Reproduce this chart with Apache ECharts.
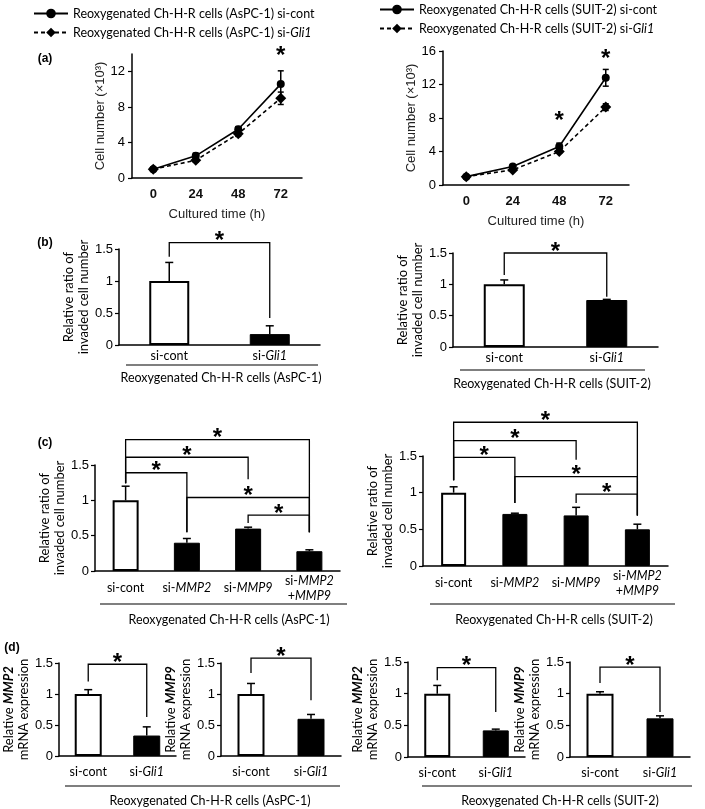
<!DOCTYPE html>
<html>
<head>
<meta charset="utf-8">
<script src="https://cdn.jsdelivr.net/npm/echarts@6/dist/echarts.min.js"></script>
<style>
html, body { margin: 0; padding: 0; background: #fff; }
#main { width: 705px; height: 809px; }
</style>
</head>
<body>
<div id="main"></div>
<script>
// (a) cell growth, x10^3 cells
var timeLabels = ['0', '24', '48', '72'];
var aspcCont = [1.0, 2.5, 5.5, 10.6];
var aspcContErr = [0.05, 0.3, 0.3, 1.5];
var aspcGli = [1.0, 2.0, 5.0, 9.0];
var aspcGliErr = [0.05, 0.2, 0.3, 0.7];
var suitCont = [1.0, 2.2, 4.6, 12.8];
var suitContErr = [0.05, 0.2, 0.4, 1.0];
var suitGli = [1.0, 1.8, 4.0, 9.3];
var suitGliErr = [0.05, 0.15, 0.2, 0.4];
var aspcStars = [[3, 13.7]];
var suitStars = [[2, 7.6], [3, 15.0]];

// (b) invasion, si-Gli1
var gliGroups = ['si-cont', 'si-Gli1'];
var invAspc = [1.0, 0.17];
var invAspcErr = [0.29, 0.13];
var invSuit = [1.0, 0.75];
var invSuitErr = [0.07, 0.01];

// (c) invasion, si-MMP
var mmpGroups = ['si-cont', 'si-MMP2', 'si-MMP9', 'si-MMP2\n+MMP9'];
var mmpAspc = [1.0, 0.4, 0.6, 0.28];
var mmpAspcErr = [0.2, 0.06, 0.02, 0.02];
var mmpSuit = [1.0, 0.71, 0.69, 0.5];
var mmpSuitErr = [0.08, 0.01, 0.11, 0.07];

// (d) mRNA expression
var mmp2Aspc = [1.0, 0.33];
var mmp2AspcErr = [0.07, 0.14];
var mmp9Aspc = [1.0, 0.6];
var mmp9AspcErr = [0.17, 0.07];
var mmp2Suit = [1.0, 0.42];
var mmp2SuitErr = [0.13, 0.02];
var mmp9Suit = [1.0, 0.61];
var mmp9SuitErr = [0.03, 0.04];

// significance brackets: [from, to, top, left foot, right foot]
var bracketsB1 = [[0, 1, 1.6, 1.38, 0.42]];
var bracketsB2 = [[0, 1, 1.5, 1.15, 0.8]];
var bracketsC1 = [[0, 1, 1.39, 1.24, 0.55], [0, 2, 1.61, 1.24, 1.3], [0, 3, 1.86, 1.24, 0.55],
                  [1, 3, 1.04, 0.55, 0.55], [2, 3, 0.79, 0.68, 0.55]];
var bracketsC2 = [[0, 1, 1.48, 1.17, 0.86], [0, 2, 1.71, 1.17, 1.45], [0, 3, 1.96, 1.17, 0.69],
                  [1, 3, 1.22, 0.86, 0.69], [2, 3, 0.98, 0.86, 0.69]];
var bracketsD1 = [[0, 1, 1.48, 1.2, 0.63]];
var bracketsD2 = [[0, 1, 1.58, 1.34, 0.9]];
var bracketsD3 = [[0, 1, 1.41, 1.21, 0.71]];
var bracketsD4 = [[0, 1, 1.42, 1.17, 0.71]];

var legendAspc = ['Reoxygenated Ch-H-R cells (AsPC-1) si-cont', 'Reoxygenated Ch-H-R cells (AsPC-1) si-Gli1'];
var legendSuit = ['Reoxygenated Ch-H-R cells (SUIT-2) si-cont', 'Reoxygenated Ch-H-R cells (SUIT-2) si-Gli1'];

var black = '#000';
var numFont = 'Liberation Sans';
var txtFont = 'Lato';

function italicGenes(v) {
    return v.replace(/(Gli1|MMP2|MMP9)/g, '{i|$1}');
}

function errRender(cap, upOnly) {
    return function (params, api) {
        var x = api.value(0), v = api.value(1), e = api.value(2);
        var top = api.coord([x, v + e]);
        var bot = api.coord([x, upOnly ? v : v - e]);
        var st = { stroke: black, lineWidth: 1.5 };
        var kids = [
            { type: 'line', shape: { x1: top[0], y1: top[1], x2: bot[0], y2: bot[1] }, style: st },
            { type: 'line', shape: { x1: top[0] - cap, y1: top[1], x2: top[0] + cap, y2: top[1] }, style: st }
        ];
        if (!upOnly) {
            kids.push({ type: 'line', shape: { x1: bot[0] - cap, y1: bot[1], x2: bot[0] + cap, y2: bot[1] }, style: st });
        }
        return { type: 'group', children: kids };
    };
}

function starText(x, y) {
    return {
        type: 'text', x: x, y: y,
        style: { text: '*', font: 'bold 24px "Liberation Sans"', fill: black, align: 'center', verticalAlign: 'middle' }
    };
}

function bracketRender(params, api) {
    var i = api.value(0), j = api.value(1), t = api.value(2);
    var p1 = api.coord([i, api.value(3)]);
    var p2 = api.coord([i, t]);
    var p3 = api.coord([j, t]);
    var p4 = api.coord([j, api.value(4)]);
    return {
        type: 'group',
        children: [
            { type: 'polyline', shape: { points: [p1, p2, p3, p4] }, style: { stroke: black, fill: null, lineWidth: 1.3 } },
            starText((p2[0] + p3[0]) / 2, p2[1] - 1)
        ]
    };
}

function starRender(params, api) {
    var p = api.coord([api.value(0), api.value(1)]);
    return starText(p[0], p[1]);
}

var grids = [
    { left: 132, top: 54, width: 170, height: 124 },   // a left
    { left: 443, top: 51, width: 186, height: 134 },   // a right
    { left: 119, top: 249, width: 201, height: 96 },   // b left
    { left: 453, top: 253, width: 205, height: 94 },   // b right
    { left: 95, top: 465, width: 245, height: 106 },   // c left
    { left: 423, top: 456, width: 245, height: 110 },  // c right
    { left: 54, top: 663, width: 122, height: 93 },    // d 1
    { left: 221, top: 663, width: 120, height: 93 },   // d 2
    { left: 408, top: 662, width: 117, height: 95 },   // d 3
    { left: 570, top: 662, width: 120, height: 95 }    // d 4
];

var xAxes = [], yAxes = [], series = [];

function addLinePanel(g, max, cont, contErr, gli, gliErr, stars, names) {
    xAxes.push({
        type: 'category', gridIndex: g, data: timeLabels,
        name: 'Cultured time (h)', nameLocation: 'middle', nameGap: 30,
        nameTextStyle: { fontFamily: numFont, fontSize: 13, color: '#222' },
        axisLine: { lineStyle: { color: black, width: 1.5 } },
        axisTick: { length: 4, lineStyle: { color: black, width: 1.2 } },
        axisLabel: { fontFamily: numFont, fontSize: 13, fontWeight: 'bold', color: '#111', margin: 10, interval: 0 }
    });
    yAxes.push({
        type: 'value', gridIndex: g, min: 0, max: max, interval: 4,
        name: 'Cell number (×10³)', nameLocation: 'middle', nameGap: 22,
        nameTextStyle: { fontFamily: numFont, fontSize: 13, color: '#222' },
        splitLine: { show: false },
        axisLine: { show: true, lineStyle: { color: black, width: 1.5 } },
        axisTick: { show: true, length: 4, lineStyle: { color: black, width: 1.2 } },
        axisLabel: { fontFamily: numFont, fontSize: 13, color: black, margin: 7, showMaxLabel: max % 4 === 0 }
    });
    series.push({
        name: names[0], type: 'line', xAxisIndex: g, yAxisIndex: g, data: cont,
        symbol: 'circle', symbolSize: 8, itemStyle: { color: black },
        lineStyle: { color: black, width: 1.6 }, z: 3
    });
    series.push({
        name: names[1], type: 'line', xAxisIndex: g, yAxisIndex: g, data: gli,
        symbol: 'diamond', symbolSize: 11, itemStyle: { color: black },
        lineStyle: { color: black, width: 1.6, type: [4, 3] }, z: 3
    });
    series.push({
        type: 'custom', xAxisIndex: g, yAxisIndex: g, renderItem: errRender(3, false), z: 4,
        data: cont.map(function (v, i) { return [i, v, contErr[i]]; })
    });
    series.push({
        type: 'custom', xAxisIndex: g, yAxisIndex: g, renderItem: errRender(3, false), z: 4,
        data: gli.map(function (v, i) { return [i, v, gliErr[i]]; })
    });
    series.push({
        type: 'custom', xAxisIndex: g, yAxisIndex: g, renderItem: starRender, z: 4, clip: false, data: stars
    });
}

function addBarPanel(g, groups, vals, errs, brackets, barWidth, yName, nameGap, labelGap) {
    xAxes.push({
        type: 'category', gridIndex: g, data: groups,
        axisLine: { lineStyle: { color: black, width: 1.5 } },
        axisTick: { length: 4, lineStyle: { color: black, width: 1.2 } },
        axisLabel: {
            fontFamily: txtFont, fontSize: 12.5, color: black, margin: labelGap, verticalAlign: 'middle',
            lineHeight: 15, interval: 0, formatter: italicGenes,
            rich: { i: { fontStyle: 'italic', fontFamily: txtFont, fontSize: 12.5, color: black, lineHeight: 15 } }
        }
    });
    yAxes.push({
        type: 'value', gridIndex: g, min: 0, max: 1.5, interval: 0.5,
        name: yName, nameLocation: 'middle', nameGap: nameGap,
        nameTextStyle: {
            fontFamily: txtFont, fontSize: 13, color: black, lineHeight: 15,
            rich: {
                n: { fontFamily: txtFont, fontSize: 13, color: black, lineHeight: 15 },
                b: { fontFamily: txtFont, fontSize: 13, color: black, lineHeight: 15, fontWeight: 'bold', fontStyle: 'italic' }
            }
        },
        splitLine: { show: false },
        axisLine: { show: true, lineStyle: { color: black, width: 1.5 } },
        axisTick: { show: true, length: 4, lineStyle: { color: black, width: 1.2 } },
        axisLabel: { fontFamily: numFont, fontSize: 13, color: black, margin: 6 }
    });
    series.push({
        type: 'bar', xAxisIndex: g, yAxisIndex: g, barWidth: barWidth,
        data: vals.map(function (v, i) {
            return {
                value: v,
                itemStyle: i === 0 ? { color: '#fff', borderColor: black, borderWidth: 2 } : { color: black, borderColor: black, borderWidth: 1 }
            };
        })
    });
    series.push({
        type: 'custom', xAxisIndex: g, yAxisIndex: g, renderItem: errRender(4, true), z: 4,
        data: vals.map(function (v, i) { return [i, v, errs[i]]; })
    });
    series.push({
        type: 'custom', xAxisIndex: g, yAxisIndex: g, renderItem: bracketRender, z: 4, clip: false,
        data: brackets
    });
}

addLinePanel(0, 14, aspcCont, aspcContErr, aspcGli, aspcGliErr, aspcStars, legendAspc);
addLinePanel(1, 16, suitCont, suitContErr, suitGli, suitGliErr, suitStars, legendSuit);
var invName = 'Relative ratio of\ninvaded cell number';
addBarPanel(2, gliGroups, invAspc, invAspcErr, bracketsB1, 40, invName, 26, 11);
addBarPanel(3, gliGroups, invSuit, invSuitErr, bracketsB2, 41, invName, 22, 11);
addBarPanel(4, mmpGroups, mmpAspc, mmpAspcErr, bracketsC1, 26, invName, 25, 17);
addBarPanel(5, mmpGroups, mmpSuit, mmpSuitErr, bracketsC2, 25, invName, 24, 17);
var mmp2Name = '{n|Relative }{b|MMP2}\n{n|mRNA expression}';
var mmp9Name = '{n|Relative }{b|MMP9}\n{n|mRNA expression}';
addBarPanel(6, gliGroups, mmp2Aspc, mmp2AspcErr, bracketsD1, 27, mmp2Name, 23, 16);
addBarPanel(7, gliGroups, mmp9Aspc, mmp9AspcErr, bracketsD2, 27, mmp9Name, 22, 16);
addBarPanel(8, gliGroups, mmp2Suit, mmp2SuitErr, bracketsD3, 26, mmp2Name, 22, 16);
addBarPanel(9, gliGroups, mmp9Suit, mmp9SuitErr, bracketsD4, 27, mmp9Name, 22, 16);

function legendBox(left, top, names) {
    return {
        left: left, top: top, orient: 'vertical', itemGap: 6, itemWidth: 34, itemHeight: 12,
        data: names,
        textStyle: {
            fontFamily: txtFont, fontSize: 12.5, color: black,
            rich: { i: { fontStyle: 'italic', fontFamily: txtFont, fontSize: 12.5, color: black } }
        },
        formatter: italicGenes
    };
}

function label(x, y, text, font) {
    return { type: 'text', x: x, y: y, style: { text: text, font: font, fill: black, align: 'center', verticalAlign: 'middle' } };
}
function rule(x1, x2, y) {
    return { type: 'line', shape: { x1: x1, y1: y, x2: x2, y2: y }, style: { stroke: black, lineWidth: 1.2 } };
}
var panelFont = 'bold 12px "Liberation Sans"';
var groupFont = '12.5px Lato';

var option = {
    animation: false,
    backgroundColor: '#fff',
    grid: grids,
    xAxis: xAxes,
    yAxis: yAxes,
    legend: [legendBox(28, 2, legendAspc), legendBox(374, -2, legendSuit)],
    series: series,
    graphic: [
        label(45, 59, '(a)', panelFont),
        label(45, 243, '(b)', panelFont),
        label(45, 443, '(c)', panelFont),
        label(12, 648, '(d)', panelFont),
        rule(126, 318, 365), label(221, 378, 'Reoxygenated Ch-H-R cells (AsPC-1)', groupFont),
        rule(460, 645, 370), label(552, 384, 'Reoxygenated Ch-H-R cells (SUIT-2)', groupFont),
        rule(100, 347, 604), label(229, 620, 'Reoxygenated Ch-H-R cells (AsPC-1)', groupFont),
        rule(430, 675, 604), label(554, 620, 'Reoxygenated Ch-H-R cells (SUIT-2)', groupFont),
        rule(65, 340, 786), label(210, 801, 'Reoxygenated Ch-H-R cells (AsPC-1)', groupFont),
        rule(422, 692, 786), label(560, 801, 'Reoxygenated Ch-H-R cells (SUIT-2)', groupFont)
    ]
};

var chart = echarts.init(document.getElementById('main'));
chart.setOption(option);
</script>
</body>
</html>
